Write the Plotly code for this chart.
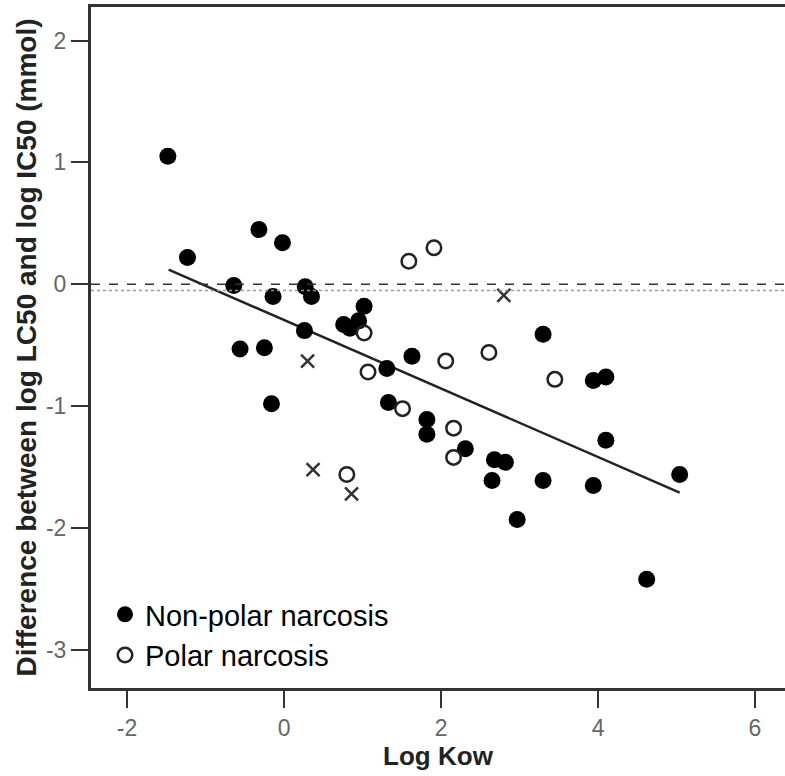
import plotly.graph_objects as go
import numpy as np

# Non-polar narcosis (filled circles)
nonpolar_x = [-1.48, -1.23, -0.32, -0.02, -0.64, -0.14, 0.27, 0.35, 1.02, 0.76,
              0.84, 0.95, 0.26, -0.56, -0.25, 1.31, -0.16, 1.33, 3.30, 1.63,
              3.94, 4.10, 1.82, 1.82, 2.31, 2.68, 2.82, 4.10, 2.65, 3.30,
              3.94, 5.04, 2.97, 4.62]
nonpolar_y = [1.05, 0.22, 0.45, 0.34, -0.01, -0.10, -0.02, -0.10, -0.18, -0.33,
              -0.36, -0.30, -0.38, -0.53, -0.52, -0.69, -0.98, -0.97, -0.41, -0.59,
              -0.79, -0.76, -1.11, -1.23, -1.35, -1.44, -1.46, -1.28, -1.61, -1.61,
              -1.65, -1.56, -1.93, -2.42]

# Polar narcosis (open circles)
polar_x = [1.02, 1.07, 0.80, 1.59, 1.91, 2.06, 2.61, 3.45, 1.51, 2.16, 2.16]
polar_y = [-0.40, -0.72, -1.56, 0.19, 0.30, -0.63, -0.56, -0.78, -1.02, -1.18, -1.42]

# Other compounds (crosses)
other_x = [0.30, 0.37, 0.86, 2.80]
other_y = [-0.63, -1.52, -1.72, -0.09]

# Regression line
fit_intercept = -0.293
fit_slope = -0.281
fit_x_range = [-1.47, 5.04]

# Reference lines
zero_line = 0.0
mean_line = -0.05

x_ticks = [-2, 0, 2, 4, 6]
x_tick_labels = ["-2", "0", "2", "4", "6"]
y_ticks = [2, 1, 0, -1, -2, -3]
y_tick_labels = ["2", "1", "0", "-1", "-2", "-3"]

FONT = "Liberation Sans, Arial, sans-serif"
AX = "#333333"

fig = go.Figure()

fx = np.array(fit_x_range)
fig.add_trace(go.Scatter(x=fx, y=fit_intercept + fit_slope * fx, mode="lines",
                         line=dict(color="#222222", width=2.5), showlegend=False,
                         hoverinfo="skip"))

fig.add_trace(go.Scatter(x=nonpolar_x, y=nonpolar_y, mode="markers",
                         name="Non-polar narcosis",
                         marker=dict(symbol="circle", size=17, color="#000000")))
fig.add_trace(go.Scatter(x=polar_x, y=polar_y, mode="markers",
                         name="Polar narcosis",
                         marker=dict(symbol="circle-open", size=14.5, color="#222222",
                                     line=dict(width=2.5, color="#222222"))))
fig.add_trace(go.Scatter(x=other_x, y=other_y, mode="markers", showlegend=False,
                         marker=dict(symbol="x-thin", size=13, color="#333333",
                                     line=dict(width=2.5, color="#333333"))))

fig.add_hline(y=zero_line, line=dict(color="#333333", width=1.5, dash="dash"))
fig.add_hline(y=mean_line, line=dict(color="#999999", width=1.5, dash="dot"))

fig.update_layout(
    width=785, height=776,
    margin=dict(l=91, r=0, t=7, b=88),
    plot_bgcolor="white", paper_bgcolor="white",
    font=dict(family=FONT, color="#000000"),
    showlegend=True,
    legend=dict(x=(105 - 91) / 694, y=(688 - 589) / 681, xanchor="left", yanchor="top",
                font=dict(size=29, family=FONT, color="#000000"),
                bgcolor="rgba(0,0,0,0)", itemsizing="trace", tracegroupgap=0),
    xaxis=dict(range=[-2.459, 6.382], tickvals=x_ticks, ticktext=x_tick_labels,
               showgrid=False, zeroline=False,
               showline=True, linecolor=AX, linewidth=3, mirror=True,
               ticks="outside", ticklen=17, tickwidth=2, tickcolor=AX,
               tickfont=dict(size=23, color="#666666", family=FONT),
               title=dict(text="<b>Log Kow</b>", font=dict(size=26, color="#222222", family=FONT),
                          standoff=6)),
    yaxis=dict(range=[-3.312, 2.275], tickvals=y_ticks, ticktext=y_tick_labels,
               showgrid=False, zeroline=False,
               showline=True, linecolor=AX, linewidth=3, mirror=False,
               ticks="outside", ticklen=17, tickwidth=2, tickcolor=AX,
               tickfont=dict(size=23, color="#666666", family=FONT),
               title=dict(text="<b>Difference between log LC50 and log IC50 (mmol)</b>",
                          font=dict(size=28, color="#222222", family=FONT), standoff=2)),
)

fig.write_html("out.html")
